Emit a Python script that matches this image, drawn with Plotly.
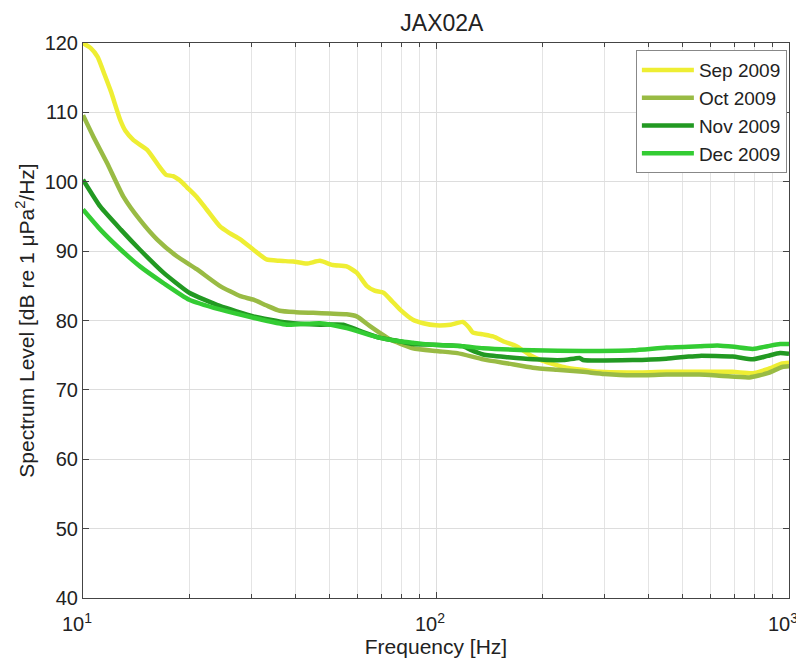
import plotly.graph_objects as go

# ---- data ----
sep_f = [10, 10.5, 11, 11.5, 12, 12.75, 13.2, 13.9, 15.2, 16.5, 17.2, 18, 19, 19.7, 21, 22.4, 24.4, 26, 27.9,
         30.4, 33.1, 36, 39.4, 43, 46.9, 51, 55.8, 59.6, 63.6, 67, 71, 75, 79, 86, 92, 100, 110, 119, 124,
         127, 136, 145, 157, 169, 185, 200, 234, 260, 290, 350, 449, 550, 692, 789, 870, 957, 1000]
sep_v = [120, 119.3, 118.0, 115.5, 113.0, 108.9, 107.3, 106.0, 104.6, 102.1, 101.0, 100.8, 100.0, 99.2, 97.8,
         96.0, 93.6, 92.6, 91.7, 90.2, 88.8, 88.6, 88.5, 88.2, 88.6, 88.0, 87.8, 86.9, 85.0, 84.3, 84.0, 82.8,
         81.6, 80.1, 79.6, 79.3, 79.4, 79.8, 79.0, 78.3, 78.0, 77.7, 76.9, 76.3, 75.0, 74.2, 73.2, 72.9, 72.6,
         72.5, 72.6, 72.6, 72.6, 72.4, 73.0, 73.8, 73.9]

oct_f = [10, 10.7, 11.7, 13.0, 14.5, 16.2, 18.4, 21, 24.4, 27.9, 30.4, 33, 36.1, 40, 44.9, 50, 55.8, 59.6, 65,
         74, 86, 100, 115, 136, 160, 188, 220, 261, 300, 361, 450, 557, 650, 773, 870, 957, 1000]
oct_v = [109.6, 106.5, 102.7, 97.9, 94.5, 91.7, 89.3, 87.4, 85.0, 83.5, 83.0, 82.2, 81.4, 81.2, 81.1, 81.0,
         80.9, 80.6, 79.2, 77.3, 76.0, 75.6, 75.3, 74.4, 73.8, 73.2, 72.9, 72.6, 72.3, 72.1, 72.2, 72.2, 72.0,
         71.8, 72.4, 73.3, 73.4]

nov_f = [10, 11.2, 12.8, 14.5, 16.9, 20, 24.4, 30.4, 37.8, 46.9, 54.6, 60.9, 69.4, 79, 86, 98, 119, 125, 136,
         160, 188, 230, 255, 261, 361, 449, 520, 557, 692, 789, 870, 943, 1000]
nov_v = [100.3, 96.4, 93.1, 90.2, 86.9, 84.0, 82.1, 80.6, 79.7, 79.4, 79.4, 78.5, 77.5, 77.0, 76.6, 76.5, 76.3,
         75.8, 75.1, 74.7, 74.4, 74.3, 74.6, 74.3, 74.3, 74.5, 74.8, 74.9, 74.8, 74.4, 74.9, 75.3, 75.2]

dec_f = [10, 11.2, 12.8, 14.5, 16.9, 20, 24.4, 30.4, 37.8, 46.9, 55.8, 69.4, 79, 86, 98, 119, 136, 188, 261,
         361, 449, 560, 627, 700, 789, 870, 943, 1000]
dec_v = [96.0, 93.1, 90.2, 87.8, 85.4, 83.0, 81.6, 80.4, 79.4, 79.6, 78.9, 77.5, 77.0, 76.8, 76.5, 76.3, 76.0,
         75.7, 75.6, 75.7, 76.1, 76.3, 76.4, 76.2, 75.9, 76.3, 76.6, 76.6]

series = [
    ("Sep 2009", sep_f, sep_v, "#eeee33"),
    ("Oct 2009", oct_f, oct_v, "#99bb44"),
    ("Nov 2009", nov_f, nov_v, "#229922"),
    ("Dec 2009", dec_f, dec_v, "#33cc33"),
]

x_tickvals = [10, 100, 1000]
x_ticktext = ["10<sup>1</sup>", "10<sup>2</sup>", "10<sup>3</sup>"]
x_minor = [20, 30, 40, 50, 60, 70, 80, 90, 200, 300, 400, 500, 600, 700, 800, 900]
y_tickvals = [40, 50, 60, 70, 80, 90, 100, 110, 120]

fig = go.Figure()
for name, f, v, c in series:
    fig.add_trace(go.Scatter(x=f, y=v, mode="lines", name=name,
                             line=dict(color=c, width=4.5, shape="spline", smoothing=0.5)))

# The page body adds an 8px margin; the plot area is placed to match the 804x662 window.
font_family = "Liberation Sans, Arial, sans-serif"
fig.update_layout(
    width=804, height=654,
    margin=dict(l=75, r=23, t=35, b=64, autoexpand=False),
    paper_bgcolor="white", plot_bgcolor="white",
    font=dict(family=font_family, color="#222222", size=18),
    title=dict(text="JAX02A", x=0.5397, xanchor="center", y=0.99, yanchor="top",
               pad=dict(t=0, b=0),
               font=dict(size=23, color="#222222")),
    showlegend=True,
    legend=dict(x=0.997, xanchor="right", y=0.987, yanchor="top",
                bgcolor="white", bordercolor="#888888", borderwidth=1,
                font=dict(size=19, color="#222222"), tracegroupgap=0,
                itemwidth=52),
)
fig.update_xaxes(
    type="log", range=[1, 3], automargin=False,
    tickvals=x_tickvals, ticktext=x_ticktext,
    ticks="inside", ticklen=6, tickcolor="#444444",
    ticklabelstandoff=8, ticklabelshift=-6, ticklabeloverflow="allow",
    showline=True, linecolor="#444444", linewidth=1, mirror="ticks",
    showgrid=True, gridcolor="#dddddd", gridwidth=1,
    minor=dict(tickvals=x_minor, ticks="inside", ticklen=4, tickcolor="#444444",
               showgrid=True, gridcolor="#e4e4e4", gridwidth=1),
    title=dict(text="Frequency [Hz]", font=dict(size=21), standoff=0),
    tickfont=dict(size=20),
    zeroline=False,
)
fig.update_yaxes(
    range=[40, 120], tickvals=y_tickvals, automargin=False,
    ticks="inside", ticklen=6, tickcolor="#444444",
    showline=True, linecolor="#444444", linewidth=1, mirror="ticks",
    showgrid=True, gridcolor="#dddddd", gridwidth=1,
    title=dict(text="Spectrum Level [dB re 1 \u03bcPa<sup>2</sup>/Hz]", font=dict(size=21), standoff=4),
    tickfont=dict(size=20),
    zeroline=False,
)

fig.write_html("out.html")
